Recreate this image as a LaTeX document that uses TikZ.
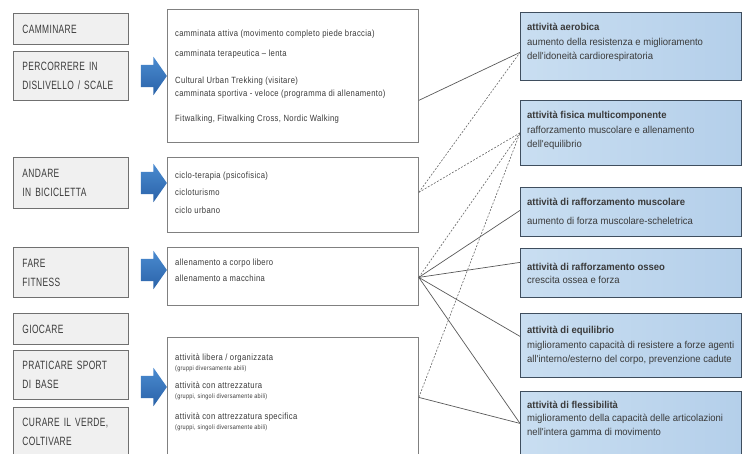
\documentclass[tikz,border=0pt]{standalone}
\usepackage{fontspec}
\setmainfont{Liberation Sans}
\newfontfamily\capsfont[FakeStretch=0.70,LetterSpace=3]{Liberation Sans}
\newfontfamily\midfont[FakeStretch=0.85,LetterSpace=4]{Liberation Sans}
\newfontfamily\rightfont[FakeStretch=0.95]{Liberation Sans}
\newcommand\smallnotefont{\fontsize{6.5}{10}\selectfont}
\usetikzlibrary{shapes.arrows}

\definecolor{boxgrey}{HTML}{F0F0F0}
\definecolor{edgegrey}{HTML}{707070}
\definecolor{paleblue}{HTML}{C9DEF1}
\definecolor{midblue}{HTML}{B4CFEA}
\definecolor{edgeblue}{HTML}{3F4E5E}
\definecolor{arrowblue}{HTML}{4A8AD0}
\definecolor{arrowdark}{HTML}{2A63A8}
\definecolor{textgrey}{HTML}{3A3A3A}

\tikzset{
  leftbox/.style={draw=edgegrey, fill=boxgrey, line width=1pt, anchor=north west,
    minimum width=115pt, text width=97pt, inner xsep=9pt, align=left,
    font=\capsfont\fontsize{12}{19}\selectfont, text=textgrey},
  midbox/.style={draw=gray, line width=0.8pt, fill=white, anchor=north west, minimum width=251pt},
  midtext/.style={anchor=north west, align=left, inner sep=0pt,
    font=\midfont\fontsize{9}{13}\selectfont, text=textgrey},
  rightbox/.style={draw=edgeblue, line width=0.8pt, left color=paleblue, right color=midblue,
    anchor=north west, minimum width=221pt},
  righttext/.style={anchor=north west, align=left, inner sep=0pt,
    font=\rightfont\fontsize{10}{14}\selectfont, text=textgrey},
  bigarrow/.style={single arrow, draw=none, top color=arrowblue, bottom color=arrowdark,
    minimum height=26pt, inner xsep=0pt, inner ysep=11pt,
    single arrow head extend=8pt, single arrow tip angle=110},
  link/.style={gray!70!black, line width=0.7pt},
  dashlink/.style={gray!80!black, line width=0.6pt, dash pattern=on 2pt off 1.5pt}
}

\begin{document}
\begin{tikzpicture}[x=1pt,y=-1pt]
\useasboundingbox (0,0) rectangle (742,454);
\clip (0,0) rectangle (742,454);

% colonna sinistra: attivita'
\node[leftbox, minimum height=31pt] (cam) at (13,13) {CAMMINARE};
\node[leftbox, minimum height=49pt] (perc) at (13,51) {PERCORRERE IN\\DISLIVELLO / SCALE};
\node[leftbox, minimum height=51pt] (bici) at (13,157) {ANDARE\\IN BICICLETTA};
\node[leftbox, minimum height=50pt] (fit) at (13,247) {FARE\\FITNESS};
\node[leftbox, minimum height=31pt] (gioc) at (13,313) {GIOCARE};
\node[leftbox, minimum height=49pt] (sport) at (13,350) {PRATICARE SPORT\\DI BASE};
\node[leftbox, minimum height=49pt] (verde) at (13,407) {CURARE IL VERDE,\\COLTIVARE};

% frecce
\node[bigarrow] (a1) at (150,76) {};
\node[bigarrow] (a2) at (150,183) {};
\node[bigarrow] (a3) at (150,270) {};
\node[bigarrow] (a4) at (150,387) {};

% colonna centrale
\node[midbox, minimum height=133pt] (m1) at (167,9) {};
\node[midbox, minimum height=75pt] (m2) at (167,157) {};
\node[midbox, minimum height=58pt] (m3) at (167,247) {};
\node[midbox, minimum height=133pt] (m4) at (167,337) {};

\node[midtext] (m1t) at (175,29.5) {camminata attiva (movimento completo piede braccia)\\[7pt]
  camminata terapeutica – lenta\\[14pt]
  Cultural Urban Trekking (visitare)\\
  camminata sportiva - veloce (programma di allenamento)\\[12pt]
  Fitwalking, Fitwalking Cross, Nordic Walking};
\node[midtext] (m2t) at (175,171.5) {ciclo-terapia (psicofisica)\\[4pt]
  cicloturismo\\[5pt]
  ciclo urbano};
\node[midtext] (m3t) at (175,258.5) {allenamento a corpo libero\\[3pt]
  allenamento a macchina};
\node[midtext, font=\midfont\fontsize{9}{10}\selectfont] (m4t) at (175,353.5) {attività libera / organizzata\\
  {\smallnotefont (gruppi diversamente abili)}\\[8pt]
  attività con attrezzatura\\
  {\smallnotefont (gruppi, singoli diversamente abili)}\\[11pt]
  attività con attrezzatura specifica\\
  {\smallnotefont (gruppi, singoli diversamente abili)}};

% colonna destra: tipi di attivita' fisica
\node[rightbox, minimum height=68pt] (aero) at (520,12) {};
\node[rightbox, minimum height=65pt] (multi) at (520,100) {};
\node[rightbox, minimum height=49pt] (musc) at (520,187) {};
\node[rightbox, minimum height=49pt] (osseo) at (520,248) {};
\node[rightbox, minimum height=64pt] (equil) at (520,313) {};
\node[rightbox, minimum height=70pt] (fless) at (520,391) {};

\node[righttext] (aerot) at (527,22.5) {\textbf{attività aerobica}\\[1pt]
  aumento della resistenza e miglioramento\\
  dell'idoneità cardiorespiratoria};
\node[righttext] (multit) at (527,110.5) {\textbf{attività fisica multicomponente}\\[1pt]
  rafforzamento muscolare e allenamento\\
  dell'equilibrio};
\node[righttext] (musct) at (527,197.5) {\textbf{attività di rafforzamento muscolare}\\[5pt]
  aumento di forza muscolare-scheletrica};
\node[righttext] (osseot) at (527,262.5) {\textbf{attività di rafforzamento osseo}\\[-1pt]
  crescita ossea e forza};
\node[righttext] (equilt) at (527,325.5) {\textbf{attività di equilibrio}\\[1pt]
  miglioramento capacità di resistere a forze agenti\\
  all'interno/esterno del corpo, prevenzione cadute};
\node[righttext] (flesst) at (527,400.5) {\textbf{attività di flessibilità}\\[-1pt]
  miglioramento della capacità delle articolazioni\\
  nell'intera gamma di movimento};

% punti di partenza dei collegamenti
\coordinate (m1o) at ([yshift=-24.5pt]m1.east);
\coordinate (m2o) at ([yshift=2.5pt]m2.east);
\coordinate (m3o) at ([yshift=-1pt]m3.east);
\coordinate (m4o) at ([yshift=6.5pt]m4.east);

% collegamenti
\draw[link] (m1o) -- ([yshift=-6pt]aero.west);
\draw[dashlink] (m2o) -- ([yshift=-6pt]aero.west);
\draw[dashlink] (m2o) -- (multi.west);
\draw[dashlink] (m3o) -- (multi.west);
\draw[dashlink] (m4o) -- (multi.west);
\draw[link] (m3o) -- ([yshift=1.5pt]musc.west);
\draw[link] (m3o) -- ([yshift=10.5pt]osseo.west);
\draw[link] (m3o) -- ([yshift=9pt]equil.west);
\draw[link] (m3o) -- ([yshift=3pt]fless.west);
\draw[link] (m4o) -- ([yshift=3pt]fless.west);
\end{tikzpicture}
\end{document}
